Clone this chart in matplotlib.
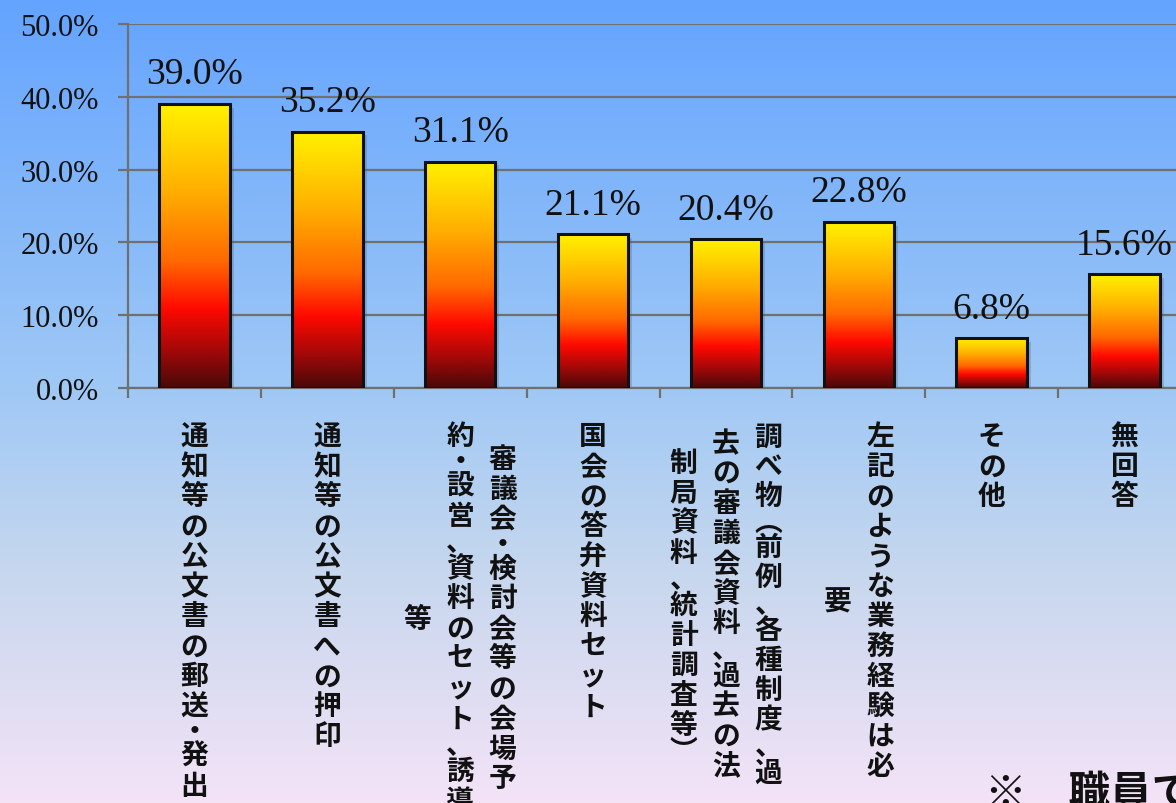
import numpy as np
import matplotlib.pyplot as plt
from matplotlib.colors import LinearSegmentedColormap

# 回答割合（%）
values = [39.0, 35.2, 31.1, 21.1, 20.4, 22.8, 6.8, 15.6]
value_labels = ['39.0%', '35.2%', '31.1%', '21.1%', '20.4%', '22.8%', '6.8%', '15.6%']
# 縦書きの項目名（右の列から順に）
categories = [
    ['通知等の公文書の郵送・発出'],
    ['通知等の公文書への押印'],
    ['審議会・検討会等の会場予', '約・設営、資料のセット、誘導', '等'],
    ['国会の答弁資料セット'],
    ['調べ物︵前例、各種制度、過', '去の審議会資料、過去の法', '制局資料、統計調査等︶'],
    ['左記のような業務経験は必', '要'],
    ['その他'],
    ['無回答'],
]
y_ticks = [0, 10, 20, 30, 40, 50]
y_tick_labels = ['0.0%', '10.0%', '20.0%', '30.0%', '40.0%', '50.0%']
note = '※　職員で'

W, H = 1176, 804
fig = plt.figure(figsize=(W / 100, H / 100), dpi=100)

# 背景のグラデーション
bg = fig.add_axes([0, 0, 1, 1], zorder=0)
bg_cmap = LinearSegmentedColormap.from_list(
    'bg', [(0.0, '#64a4ff'), (0.48, '#9fc8f5'), (0.71, '#c6d7ee'), (1.0, '#f4e3f7')])
bg.imshow(np.linspace(0, 1, 256).reshape(-1, 1), aspect='auto', cmap=bg_cmap,
          extent=[0, 1, 1, 0])
bg.set_axis_off()

ax = fig.add_axes([128 / W, 1 - 389 / H, 1063 / W, 364 / H], zorder=1)
ax.patch.set_alpha(0)

x = np.arange(len(values))
bar_cmap = LinearSegmentedColormap.from_list(
    'bar', [(0.0, '#fff200'), (0.3, '#ffb000'), (0.55, '#ff6a00'),
            (0.72, '#ff0a00'), (0.86, '#a80808'), (1.0, '#4a0808')])
grad = np.linspace(0, 1, 256).reshape(-1, 1)

bars = ax.bar(x, values, width=0.53, facecolor='none', edgecolor='#111111',
              linewidth=2.2, zorder=4)
for b, v, lab in zip(bars, values, value_labels):
    x0 = b.get_x()
    w = b.get_width()
    # 影
    ax.bar(x0 + w / 2 + 0.03, v, width=w, bottom=-0.5, color='#3a5a8a', alpha=0.25,
           linewidth=0, zorder=2)
    im = ax.imshow(grad, aspect='auto', cmap=bar_cmap,
                   extent=[x0, x0 + w, 0, v], zorder=3)
    im.set_clip_path(b)
    ax.annotate(lab, xy=(x0 + w / 2, v), xytext=(0, 15), textcoords='offset points',
                ha='center', va='baseline', fontsize=27, family='Liberation Serif',
                color='#111111', zorder=5)

ax.set_xlim(-0.5, len(values) - 0.5)
ax.set_ylim(0, 50)
ax.set_yticks(y_ticks)
ax.set_yticklabels(y_tick_labels, fontsize=22, family='Liberation Serif', color='#111111')
ax.yaxis.grid(True, color='#707070', linewidth=1.6, zorder=1)
ax.set_axisbelow(True)
ax.tick_params(axis='y', length=7, width=1.6, color='#707070', pad=14)
ax.set_xticks(x)
ax.set_xticklabels([])
ax.set_xticks(np.arange(-0.5, len(values)), minor=True)
ax.tick_params(axis='x', which='major', length=0)
ax.tick_params(axis='x', which='minor', length=7, width=1.6, color='#707070')
for side in ['top', 'right']:
    ax.spines[side].set_visible(False)
for side in ['left', 'bottom']:
    ax.spines[side].set_color('#707070')
    ax.spines[side].set_linewidth(1.6)

# 縦書きラベル：1文字ずつ並べる
pitch = 21.6      # 文字送り（pt）
col_gap = 30.5    # 行間（pt）
top = 24.0        # 軸からの距離（pt）
narrow = {'、': 0.75, '・': 0.65, '︵': 0.7, '︶': 0.7}
for i, cols in enumerate(categories):
    adv = [[narrow.get(c, 1.0) for c in col] for col in cols]
    longest = max(sum(a) for a in adv)
    n = len(cols)
    for j, (col, a) in enumerate(zip(cols, adv)):
        dx = ((n - 1) / 2 - j) * col_gap
        pos = (longest - sum(a)) / 2
        for ch, step in zip(col, a):
            dy = -(top + (pos + step / 2) * pitch)
            ax.annotate(ch, xy=(i, 0), xycoords=ax.get_xaxis_transform(),
                        xytext=(dx, dy), textcoords='offset points',
                        ha='center', va='center', fontsize=20, fontweight='bold',
                        family=['Noto Sans CJK JP', 'DejaVu Sans'],
                        color='#111111', annotation_clip=False)
            pos += step

fig.text(985 / W, 1 - 773 / H, note, ha='left', va='top', fontsize=30,
         fontweight='bold', family=['Noto Sans CJK JP', 'DejaVu Sans'], color='#111111')

fig.savefig('out.png', dpi=100)
